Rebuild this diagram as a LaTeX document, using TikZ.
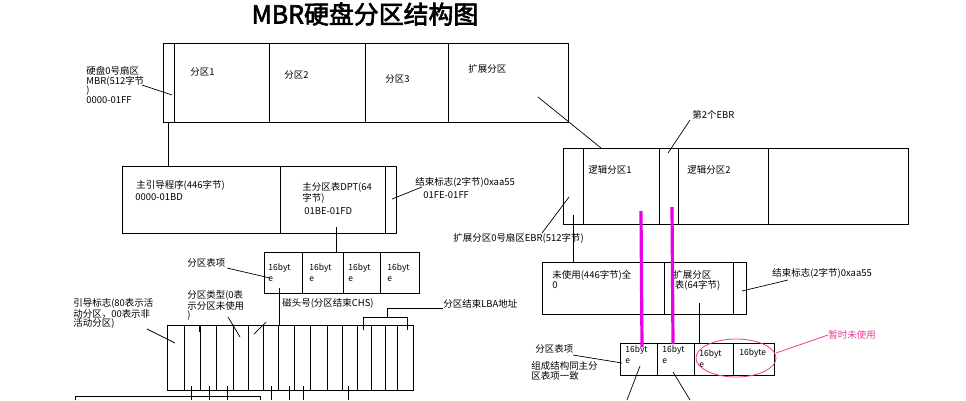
\documentclass[tikz,border=0pt]{standalone}
\usepackage{fontspec}
\setmainfont{Noto Sans CJK SC}
\newfontfamily\titlefont[AutoFakeBold=2.5]{Noto Sans CJK SC}
\definecolor{mag}{RGB}{232,0,232}
\definecolor{pinkm}{RGB}{236,60,150}
\begin{document}
\begin{tikzpicture}[x=1bp,y=-1bp,line width=0.8bp,
  lbl/.style={inner sep=0pt,anchor=west,font=\fontsize{9.5}{10}\selectfont},
  mlbl/.style={inner sep=0pt,anchor=north west,align=left,font=\fontsize{9.5}{9.8}\selectfont},
  cell/.style={inner sep=0pt,anchor=north west,align=left,font=\fontsize{8.5}{11}\selectfont},
  leader/.style={line width=0.7bp},
  magline/.style={draw=mag,line width=3.2bp},
  pinkline/.style={draw=pinkm,line width=0.8bp}]
\useasboundingbox (0,0) rectangle (966,400);
% title
\node[inner sep=0pt,font=\titlefont\fontsize{25}{25}\selectfont\bfseries] (title) at (365,14) {MBR硬盘分区结构图};

% ---------- top disk box ----------
\draw (163,43) rectangle (568,122);
\foreach \x in {174,269,365,448} \draw (\x,43) -- (\x,122);
\node[lbl] (p1) at (190,72) {分区1};
\node[lbl] (p2) at (284,75) {分区2};
\node[lbl] (p3) at (385,79) {分区3};
\node[lbl] (pe) at (468,69) {扩展分区};
\node[mlbl] (mbrl) at (86,66) {硬盘0号扇区\\MBR(512字节\\)\\0000-01FF};
\coordinate (mbrA) at (142,85); \coordinate (mbrB) at (172,95);
\draw[leader] (mbrA) -- (mbrB);
\coordinate (mbrC) at (168,122); \coordinate (mbrD) at (168,166);
\draw (mbrC) -- (mbrD);
\coordinate (extA) at (538,97); \coordinate (extB) at (601,148);
\draw[leader] (extA) -- (extB);

% ---------- MBR detail box ----------
\draw (122,166) rectangle (396,233);
\foreach \x in {280,385} \draw (\x,166) -- (\x,233);
\node[lbl] (boot) at (136,185) {主引导程序(446字节)};
\node[lbl] (boota) at (135,197) {0000-01BD};
\node[mlbl] (dpt) at (302,182) {主分区表DPT(64\\字节)};
\node[lbl] (dpta) at (304,211) {01BE-01FD};
\coordinate (endA) at (392,199); \coordinate (endB) at (422,187);
\draw[leader] (endA) -- (endB);
\node[lbl] (endl) at (415,182) {结束标志(2字节)0xaa55};
\node[lbl] (enda) at (423,195) {01FE-01FF};
\coordinate (dptA) at (336,227); \coordinate (dptB) at (336,252);
\draw (dptA) -- (dptB);

% ---------- partition table (4 entries) ----------
\draw (264,252) rectangle (419,293);
\foreach \x in {302,343,380} \draw (\x,252) -- (\x,293);
\node[cell] (e1) at (268,263) {16byt\\e};
\node[cell] (e2) at (309,263) {16byt\\e};
\node[cell] (e3) at (348,263) {16byt\\e};
\node[cell] (e4) at (387,263) {16byt\\e};
\node[lbl] (ptl) at (187,263) {分区表项};
\coordinate (ptA) at (227,268); \coordinate (ptB) at (270,278);
\draw[leader] (ptA) -- (ptB);
\coordinate (e1A) at (279,288); \coordinate (e1B) at (279,325);
\draw (e1A) -- (e1B);

% ---------- 16 byte entry ----------
\draw (167,325) rectangle (413,390);
\foreach \x in {184,200,216,233,248,263,278,294,310,327,342,357,371,385,397} \draw (\x,325) -- (\x,390);
\node[mlbl] (bootf) at (73,298) {引导标志(80表示活\\动分区，00表示非\\活动分区)};
\coordinate (bfA) at (147,329); \coordinate (bfB) at (175,343);
\draw[leader] (bfA) -- (bfB);
\node[mlbl] (ptype) at (187,290) {分区类型(0表\\示分区未使用\\)};
\coordinate (tyA) at (228,317); \coordinate (tyB) at (240,337);
\draw[leader] (tyA) -- (tyB);
\coordinate (tkA) at (199,326); \coordinate (tkB) at (199,332);
\draw[leader] (tkA) -- (tkB);
\node[lbl] (chs) at (282,303) {磁头号(分区结束CHS)};
\coordinate (chA) at (266,322); \coordinate (chB) at (254,334);
\draw[leader] (chA) -- (chB);
\node[lbl] (lba) at (443,304) {分区结束LBA地址};
\coordinate (lbA) at (443,308); \coordinate (lbB) at (387,308); \coordinate (lbC) at (387,317);
\coordinate (lbL) at (363,317); \coordinate (lbR) at (407,317);
\draw[leader] (lba.west |- lbA) -- (lbB) -- (lbC);
\draw[leader] (363,330) -- (lbL) -- (lbR) -- (407,330);
\foreach \x in {191,209,227,271,289,303,348} \draw (\x,386) -- (\x,400);
\draw (75,400) -- (75,396) -- (260,396) -- (260,400);

% ---------- logical partitions ----------
\draw (563,148) rectangle (908,224);
\foreach \x in {583,659,678,768} \draw (\x,148) -- (\x,224);
\node[lbl] (lg1) at (588,170) {逻辑分区1};
\node[lbl] (lg2) at (687,170) {逻辑分区2};
\node[lbl] (ebr2) at (692,115) {第2个EBR};
\coordinate (e2A) at (690,120); \coordinate (e2B) at (668,153);
\draw[leader] (e2A) -- (e2B);
\node[lbl] (ebrl) at (453,238) {扩展分区0号扇区EBR(512字节)};
\coordinate (ebA) at (569,197); \coordinate (ebB) at (542,233);
\draw[leader] (ebA) -- (ebB);
\coordinate (ebC) at (573,215); \coordinate (ebD) at (573,262);
\draw (ebC) -- (ebD);

% ---------- EBR detail ----------
\draw (542,262) rectangle (746,314);
\foreach \x in {664,733} \draw (\x,262) -- (\x,314);
\node[mlbl] (unused) at (552,270) {未使用(446字节)全\\0};
\node[mlbl] (ept) at (673,270) {扩展分区\\\,表(64字节)};
\node[lbl] (end2) at (772,273) {结束标志(2字节)0xaa55};
\coordinate (en2A) at (742,291); \coordinate (en2B) at (788,280);
\draw[leader] (en2A) -- (en2B);
\coordinate (eptA) at (699,303); \coordinate (eptB) at (699,343);
\draw (eptA) -- (eptB);

% ---------- extended partition table ----------
\draw (620,343) rectangle (774,375);
\foreach \x in {657,694,733} \draw (\x,343) -- (\x,375);
\node[cell] (f1) at (625,345) {16byt\\e};
\node[cell] (f2) at (662,345) {16byt\\e};
\node[cell] (f3) at (699,349) {16byt\\e};
\node[cell,anchor=west] (f4) at (739,353) {16byte};
\node[lbl] (pt2) at (535,349) {分区表项};
\coordinate (pt2A) at (573,355); \coordinate (pt2B) at (622,363);
\draw[leader] (pt2A) -- (pt2B);
\node[mlbl] (same) at (531,361) {组成结构同主分\\区表项一致};
\coordinate (f1A) at (640,366); \coordinate (f1B) at (627,400);
\draw[leader] (f1A) -- (f1B);
\coordinate (f2A) at (673,372); \coordinate (f2B) at (690,400);
\draw[leader] (f2A) -- (f2B);

% ---------- magenta marks ----------
\draw[magline] (641,211) -- (642,347);
\draw[magline] (672,207) -- (673,344);
\draw[pinkline] (736,358) ellipse [x radius=40, y radius=19];
\node[lbl,text=pinkm] (tmp) at (828,335) {暂时未使用};
\coordinate (tmA) at (776,353);
\draw[pinkline] (tmA) -- (tmp.west);
\end{tikzpicture}
\end{document}
